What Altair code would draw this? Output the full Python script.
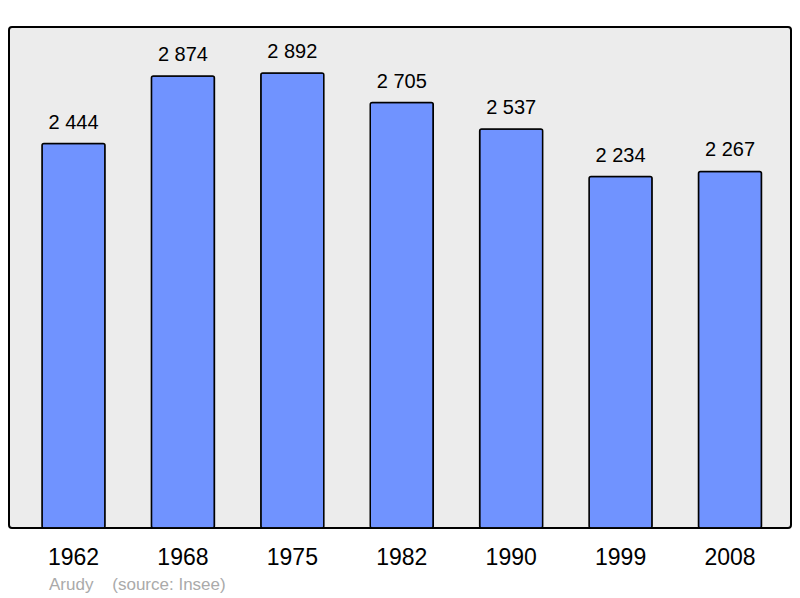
import altair as alt
import pandas as pd

years = ["1962", "1968", "1975", "1982", "1990", "1999", "2008"]
population = [2444, 2874, 2892, 2705, 2537, 2234, 2267]
labels = ["2 444", "2 874", "2 892", "2 705", "2 537", "2 234", "2 267"]

df = pd.DataFrame({"year": years, "pop": population, "label": labels})

x = alt.X("year:N", sort=years, title=None,
          scale=alt.Scale(paddingInner=0.424, paddingOuter=0.286, range=[1.7, 783.8]),
          axis=alt.Axis(labelAngle=0, domain=False, ticks=False, labelFontSize=23,
                        labelFont="Liberation Sans", labelColor="#000000",
                        labelPadding=18, grid=False))
y = alt.Y("pop:Q", title=None, scale=alt.Scale(domain=[0, 3185], nice=False, zero=True),
          axis=None)

bars = alt.Chart(df).mark_bar(color="#7093ff", stroke="#000000", strokeWidth=1.5,
                              cornerRadius=2).encode(x=x, y=y)
text = alt.Chart(df).mark_text(baseline="alphabetic", dy=-15, fontSize=20,
                               font="Liberation Sans", color="#000000").encode(
    x=alt.X("year:N", sort=years), y="pop:Q", text="label:N")

chart = alt.layer(bars, text).properties(
    width=782, height=501,
    autosize=alt.AutoSizeParams(type="none"),
    padding={"left": 1, "top": 19, "right": 1, "bottom": 70},
    background="#ffffff",
    title=alt.Title("Arudy\u00a0\u00a0\u00a0\u00a0(source: Insee)", orient="bottom",
                    anchor="start", dx=40, offset=8, fontSize=17, fontWeight="normal",
                    font="Liberation Sans", color="#aaaaaa"),
).configure_view(fill="#ececec", stroke="#000000", strokeWidth=2, cornerRadius=3)

chart.save("out.html", embed_options={"renderer": "svg", "actions": False})
